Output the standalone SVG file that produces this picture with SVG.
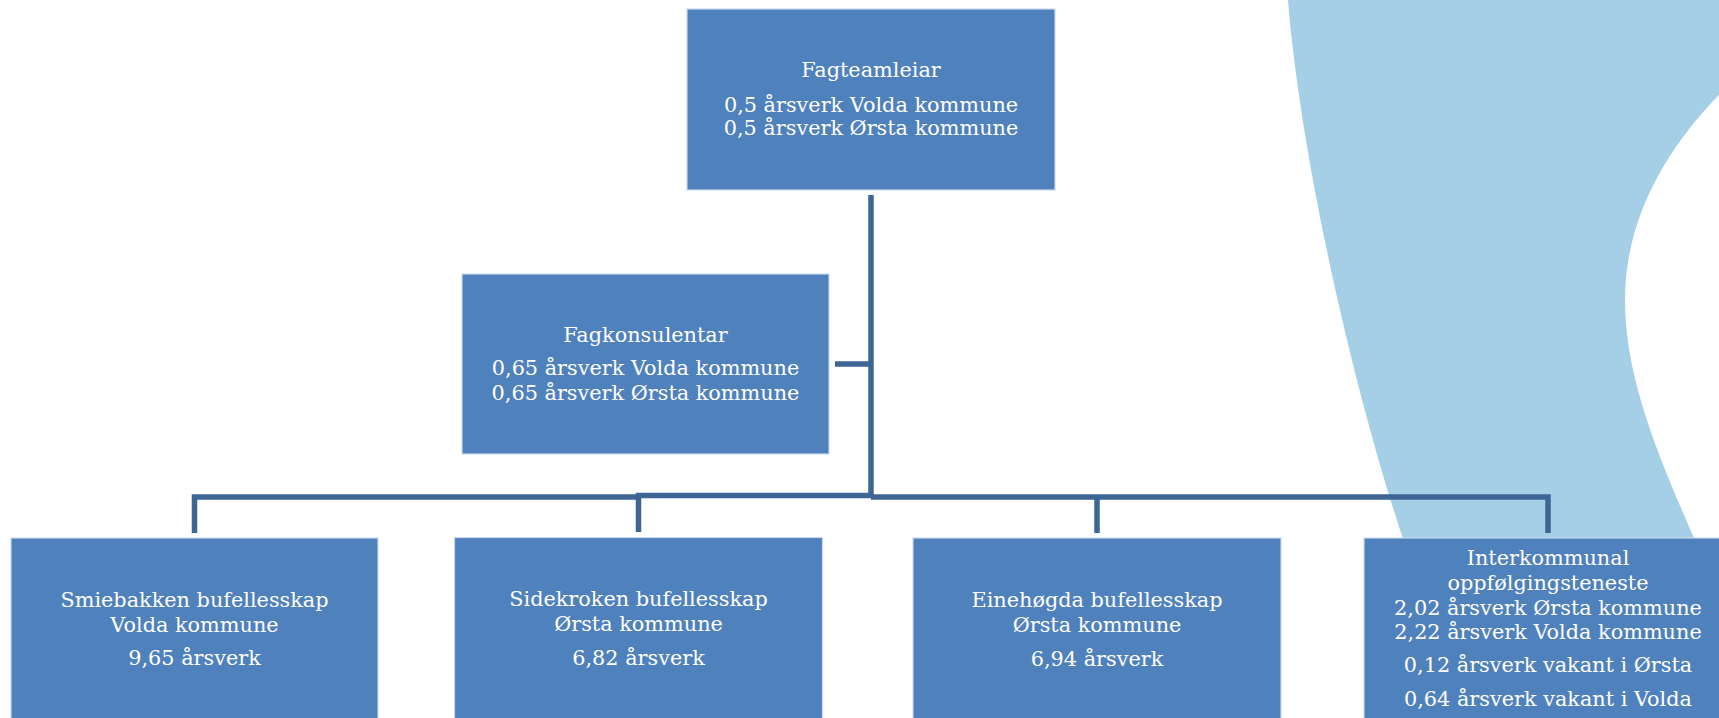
<svg xmlns="http://www.w3.org/2000/svg" width="1719" height="718" viewBox="0 0 1719 718">
<style>
.box{fill:#4F81BD;stroke:#C9D8EC;stroke-width:1.2}
.t{font-family:"DejaVu Serif","Liberation Serif",serif;font-size:20.8px;fill:#FFFFFF;text-anchor:middle}
.c{fill:none;stroke:#3D6695;stroke-width:5.5;stroke-linejoin:miter;stroke-linecap:butt}
</style>
<rect width="1719" height="718" fill="#FFFFFF"/>
<path id="bg-shape" d="M1288,0 L1719,0 L1719,95 C1670,145 1625,215 1625,300 C1625,380 1660,460 1697,545 L1405,545 C1350,380 1300,150 1288,0 Z" fill="#A4CFE7"/>
<g id="connectors">
<path class="c" d="M871,195 V497"/>
<path class="c" d="M835,364 H871"/>
<path class="c" d="M194.5,533 V497 H638"/>
<path class="c" d="M638.5,532 V495.5 H871"/>
<path class="c" d="M871,497 H1548 V533"/>
<path class="c" d="M1097,497 V533"/>
</g>
<g id="fagteamleiar">
<rect class="box" x="687" y="9" width="368" height="181"/>
<text class="t" x="871" y="77">Fagteamleiar</text>
<text class="t" x="871" y="112">0,5 årsverk Volda kommune</text>
<text class="t" x="871" y="135">0,5 årsverk Ørsta kommune</text>
</g>
<g id="fagkonsulentar">
<rect class="box" x="462" y="274" width="367" height="180"/>
<text class="t" x="645.5" y="342">Fagkonsulentar</text>
<text class="t" x="645.5" y="375">0,65 årsverk Volda kommune</text>
<text class="t" x="645.5" y="400">0,65 årsverk Ørsta kommune</text>
</g>
<g id="smiebakken">
<rect class="box" x="11" y="538" width="367" height="182"/>
<text class="t" x="194.5" y="607">Smiebakken bufellesskap</text>
<text class="t" x="194.5" y="632">Volda kommune</text>
<text class="t" x="194.5" y="665">9,65 årsverk</text>
</g>
<g id="sidekroken">
<rect class="box" x="454.5" y="537.5" width="368" height="182"/>
<text class="t" x="638.5" y="606">Sidekroken bufellesskap</text>
<text class="t" x="638.5" y="631">Ørsta kommune</text>
<text class="t" x="638.5" y="665">6,82 årsverk</text>
</g>
<g id="einehogda">
<rect class="box" x="913" y="538" width="368" height="182"/>
<text class="t" x="1097" y="607">Einehøgda bufellesskap</text>
<text class="t" x="1097" y="632">Ørsta kommune</text>
<text class="t" x="1097" y="666">6,94 årsverk</text>
</g>
<g id="interkommunal">
<rect class="box" x="1364" y="538" width="368" height="182"/>
<text class="t" x="1548" y="565">Interkommunal</text>
<text class="t" x="1548" y="589.5">oppfølgingsteneste</text>
<text class="t" x="1548" y="614.5">2,02 årsverk Ørsta kommune</text>
<text class="t" x="1548" y="639">2,22 årsverk Volda kommune</text>
<text class="t" x="1548" y="672">0,12 årsverk vakant i Ørsta</text>
<text class="t" x="1548" y="705.5">0,64 årsverk vakant i Volda</text>
</g>
</svg>
